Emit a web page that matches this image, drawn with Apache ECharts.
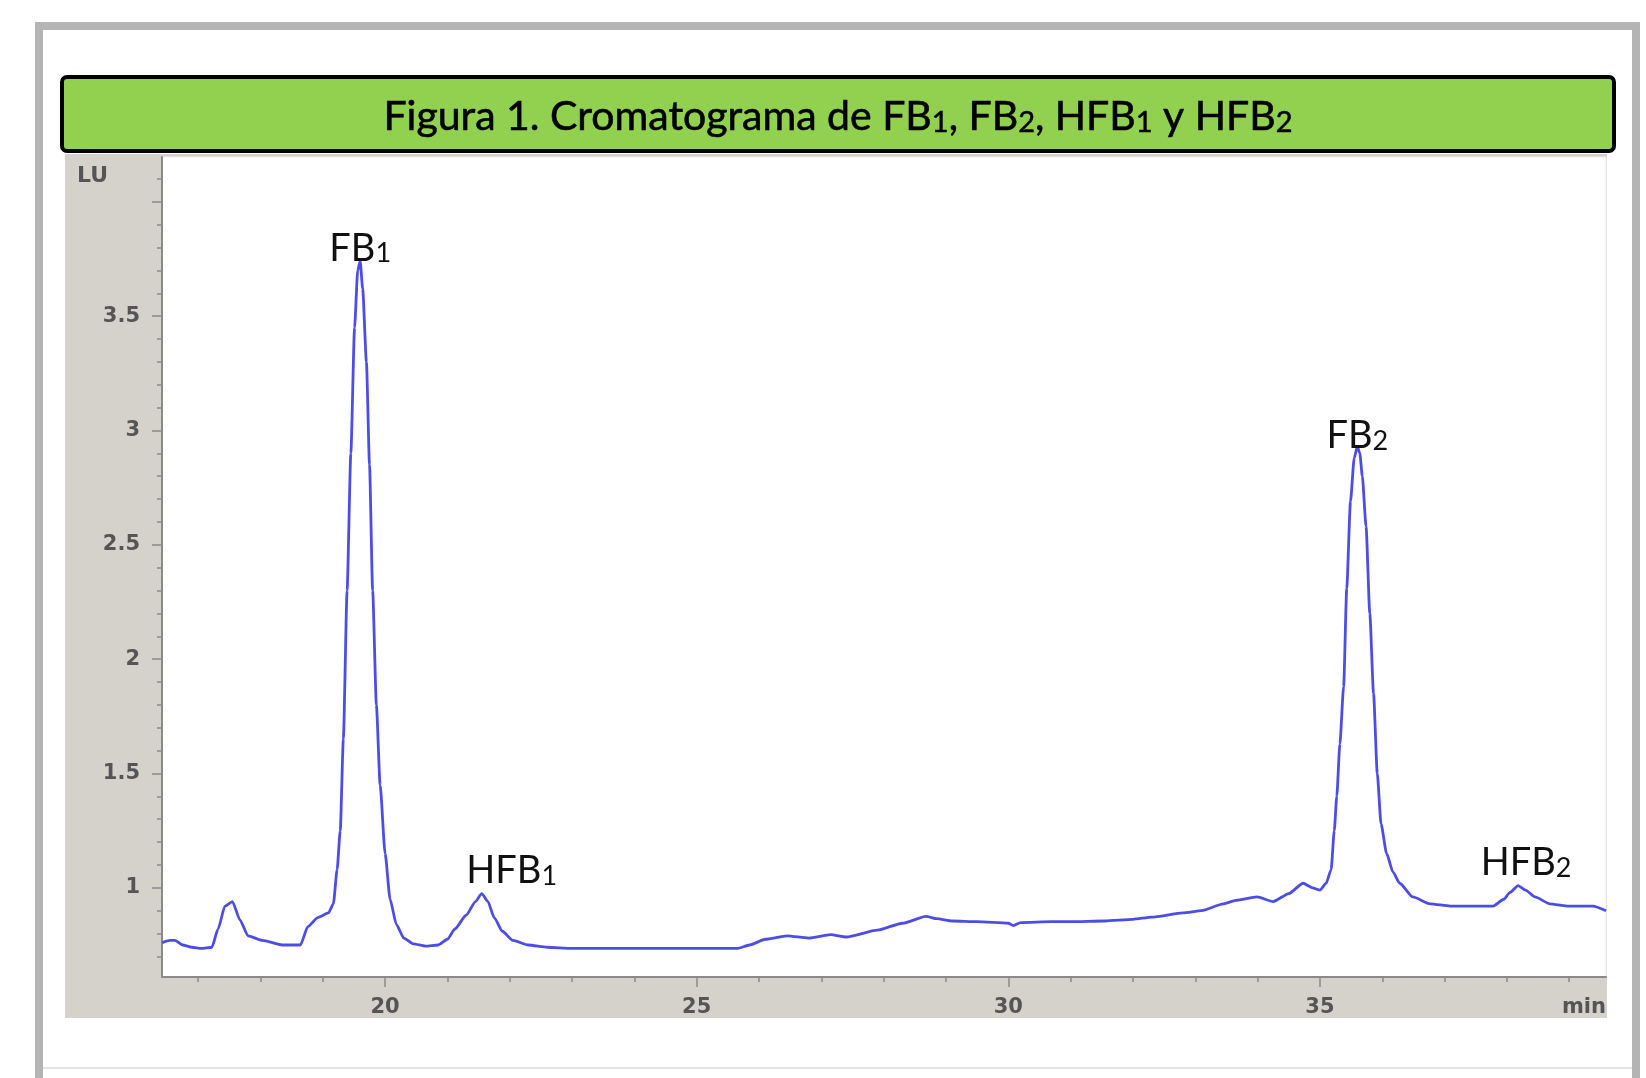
<!DOCTYPE html>
<html>
<head>
<meta charset="utf-8">
<script src="https://cdn.jsdelivr.net/npm/echarts@6/dist/echarts.min.js"></script>
<style>
html,body{margin:0;padding:0;background:#fff;}
#c{width:1646px;height:1078px;}
</style>
</head>
<body>
<div id="c"></div>
<script>
// Retention time (min) and fluorescence signal (LU)
const timeMin = [16.42,16.55,16.63,16.75,16.90,17.05,17.22,17.32,17.43,17.55,17.67,17.80,18.03,18.35,18.64,18.76,18.92,19.09,19.17,19.23,19.28,19.33,19.39,19.45,19.51,19.56,19.60,19.64,19.70,19.75,19.80,19.86,19.92,20.00,20.08,20.18,20.30,20.45,20.65,20.85,21.00,21.12,21.30,21.45,21.55,21.65,21.75,21.88,22.05,22.30,22.60,23.00,24.00,25.00,25.65,25.85,26.10,26.45,26.80,27.15,27.40,27.90,28.30,28.68,28.85,29.10,29.50,30.00,30.08,30.20,30.70,31.00,31.55,32.00,32.30,32.80,33.10,33.45,33.65,33.99,34.25,34.50,34.73,34.88,35.00,35.10,35.18,35.23,35.27,35.32,35.38,35.43,35.49,35.55,35.60,35.64,35.68,35.74,35.80,35.86,35.92,35.98,36.07,36.17,36.28,36.49,36.77,37.09,37.50,37.78,37.95,38.05,38.18,38.30,38.45,38.69,38.96,39.38,39.59];
const signalLU = [0.76,0.77,0.77,0.75,0.74,0.735,0.74,0.82,0.92,0.94,0.86,0.79,0.77,0.75,0.75,0.83,0.87,0.89,0.93,1.08,1.25,1.65,2.30,2.90,3.45,3.70,3.74,3.62,3.30,2.85,2.30,1.80,1.45,1.15,0.95,0.84,0.78,0.755,0.745,0.75,0.775,0.82,0.88,0.94,0.975,0.94,0.87,0.81,0.77,0.75,0.74,0.735,0.735,0.735,0.735,0.75,0.775,0.79,0.78,0.795,0.785,0.815,0.845,0.875,0.865,0.855,0.852,0.845,0.835,0.848,0.852,0.852,0.855,0.862,0.872,0.89,0.90,0.93,0.945,0.96,0.94,0.975,1.02,1.00,0.99,1.02,1.08,1.25,1.40,1.63,1.88,2.31,2.69,2.88,2.93,2.90,2.80,2.58,2.20,1.85,1.50,1.28,1.15,1.07,1.02,0.96,0.93,0.92,0.92,0.92,0.95,0.98,1.01,0.99,0.96,0.93,0.92,0.92,0.90];

// Peak annotations
const peakNames = ['FB', 'HFB', 'FB', 'HFB'];
const peakIndex = ['1', '1', '2', '2'];
const peakTimes = [19.60, 21.55, 35.60, 38.18];
const peakLU = [3.74, 0.975, 2.93, 1.01];

// Axis ticks and labels
const xMajorTicks = [20, 25, 30, 35];
const xMinorTicks = [17,18,19,20,21,22,23,24,25,26,27,28,29,30,31,32,33,34,35,36,37,38,39];
const yMajorTicks = [1, 1.5, 2, 2.5, 3, 3.5, 4];
const yLabelValues = [1, 1.5, 2, 2.5, 3, 3.5];
const yMinorTicks = [0.7,0.8,0.9,1.0,1.1,1.2,1.3,1.4,1.5,1.6,1.7,1.8,1.9,2.0,2.1,2.2,2.3,2.4,2.5,2.6,2.7,2.8,2.9,3.0,3.1,3.2,3.3,3.4,3.5,3.6,3.7,3.8,3.9,4.0,4.1];
const xRange = [16.42, 39.59];
const yRange = [0.61, 4.196];

const titleParts = ['Figura 1. Cromatograma de FB', '1', ', FB', '2', ', HFB', '1', ' y HFB', '2'];

// ---- build ----
const lineData = timeMin.map((t, i) => [t, signalLU[i]]);
const labelOffsets = [[0, 6], [30, -4], [0, 8], [8, -4]];
const peakMarks = peakNames.map((n, i) => ({
  coord: [peakTimes[i], peakLU[i]],
  label: {
    formatter: n + '{s|' + peakIndex[i] + '}',
    offset: labelOffsets[i]
  }
}));
const titleText = titleParts.map((p, i) => i % 2 ? '{s|' + p + '}' : '{a|' + p + '}').join('');

const tickFont = { fontFamily: 'DejaVu Sans', fontSize: 21, fontWeight: 'bold', color: '#555' };
const axisGray = '#8a8a8a';

const chart = echarts.init(document.getElementById('c'), null, { renderer: 'canvas' });
chart.setOption({
  animation: false,
  backgroundColor: '#fff',
  graphic: [
    { type: 'rect', z: -10, shape: { x: 39, y: 26, width: 1597, height: 1120 }, style: { fill: 'none', stroke: '#b4b4b4', lineWidth: 8 } },
    { type: 'line', z: -10, shape: { x1: 43, y1: 1068, x2: 1632, y2: 1068 }, style: { stroke: '#e4e4e4', lineWidth: 2 } },
    { type: 'rect', z: -9, shape: { x: 65, y: 154, width: 1542, height: 864 }, style: { fill: '#d5d2cc' } },
    { type: 'rect', z: 5, shape: { x: 62, y: 77, width: 1552, height: 74, r: 5 }, style: { fill: '#92d050', stroke: '#000', lineWidth: 4 } },
    { type: 'text', z: 6, x: 838, y: 115, style: {
        text: titleText, align: 'center', verticalAlign: 'middle',
        rich: {
          a: { fontFamily: 'Lato', fontSize: 41, fill: '#000', lineHeight: 44, verticalAlign: 'bottom', stroke: '#000', lineWidth: 0.6 },
          s: { fontFamily: 'Lato', fontSize: 29, fill: '#000', lineHeight: 33, verticalAlign: 'bottom', stroke: '#000', lineWidth: 0.5 }
        }
    } },
    { type: 'text', z: 6, x: 77, y: 176, style: { text: 'LU', fontFamily: 'DejaVu Sans', fontSize: 22, fontWeight: 'bold', fill: '#555', verticalAlign: 'middle' } },
    { type: 'text', z: 6, x: 1606, y: 1008, style: { text: 'min', fontFamily: 'DejaVu Sans', fontSize: 21, fontWeight: 'bold', fill: '#555', align: 'right', verticalAlign: 'middle' } }
  ],
  grid: { left: 162, right: 40, top: 157, bottom: 101, show: true, backgroundColor: '#fff', borderColor: '#ececec', borderWidth: 1 },
  xAxis: [
    { type: 'value', min: xRange[0], max: xRange[1], splitLine: { show: false },
      axisLine: { show: true, lineStyle: { color: axisGray, width: 2 } },
      axisTick: { show: true, customValues: xMajorTicks, length: 10, lineStyle: { color: axisGray, width: 1.5 } },
      axisLabel: Object.assign({ customValues: xMajorTicks, margin: 20 }, tickFont) },
    { type: 'value', min: xRange[0], max: xRange[1], position: 'bottom', splitLine: { show: false },
      axisLine: { show: false },
      axisTick: { show: true, customValues: xMinorTicks, length: 5, lineStyle: { color: axisGray, width: 1.5 } },
      axisLabel: { show: false } }
  ],
  yAxis: [
    { type: 'value', min: yRange[0], max: yRange[1], splitLine: { show: false },
      axisLine: { show: true, lineStyle: { color: axisGray, width: 2 } },
      axisTick: { show: true, customValues: yMajorTicks, length: 10, lineStyle: { color: axisGray, width: 1.5 } },
      axisLabel: Object.assign({ customValues: yLabelValues, margin: 22 }, tickFont) },
    { type: 'value', min: yRange[0], max: yRange[1], position: 'left', splitLine: { show: false },
      axisLine: { show: false },
      axisTick: { show: true, customValues: yMinorTicks, length: 5, lineStyle: { color: axisGray, width: 1.5 } },
      axisLabel: { show: false } }
  ],
  series: [{
    type: 'line', xAxisIndex: 0, yAxisIndex: 0, data: lineData,
    showSymbol: false, symbol: 'none', smooth: 0.2, smoothMonotone: 'x',
    lineStyle: { color: '#4d4de6', width: 2.8 },
    markPoint: {
      symbol: 'circle', symbolSize: 0,
      label: {
        show: true, position: 'top', distance: 0,
        fontFamily: 'Lato', fontSize: 38, color: '#111',
        rich: { s: { fontFamily: 'Lato', fontSize: 27, color: '#111', verticalAlign: 'bottom', lineHeight: 31 } }
      },
      data: peakMarks
    }
  }]
});
</script>
</body>
</html>
